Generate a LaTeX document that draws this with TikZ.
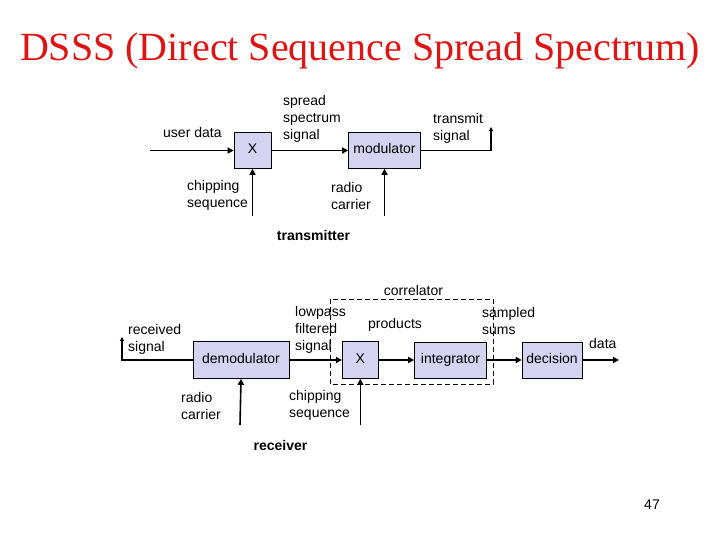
\documentclass[tikz,border=0pt]{standalone}
\usepackage{fontspec}
\setmainfont{Liberation Serif}
\setsansfont{Liberation Sans}
\usetikzlibrary{arrows.meta}
\usetikzlibrary{calc,positioning}

\definecolor{boxfill}{RGB}{212,212,242}
\definecolor{titlered}{RGB}{220,20,20}

\tikzset{
  block/.style={draw=black, fill=boxfill, line width=0.6pt, inner sep=0pt,
    text height=10pt, text depth=3pt,
    font=\sffamily\fontsize{14}{17}\selectfont},
  lbl/.style={inner sep=0pt, anchor=west, align=left,
    font=\sffamily\fontsize{14}{17}\selectfont},
  sig/.style={line width=1.6pt, -{Triangle[length=6pt,width=6pt]}},
  ant/.style={line width=1.6pt, -{Triangle[length=4pt,width=4pt]}},
}

\begin{document}
\begin{tikzpicture}[x=1pt,y=-1pt,>=Stealth]
  \useasboundingbox (0,0) rectangle (720,540);

  \node[text=titlered, font=\fontsize{40}{44}\selectfont] (title) at (360,51)
    {DSSS (Direct Sequence Spread Spectrum)};

  % transmitter
  \node[block, minimum width=37pt, minimum height=36pt] (mix) at (252.5,150.5) {X};
  \node[block, minimum width=72pt, minimum height=36pt] (mod) at (384.5,150.5) {modulator};

  \coordinate (in) at (150,150.5);
  \coordinate (tx) at (491,127);
  \coordinate (chip) at (252.5,216);
  \coordinate (car) at (384.5,216);

  \draw[sig] (in) -- (mix.west);
  \draw[sig] (mix.east) -- (mod.west);
  \draw[ant] (mod.east) -| (tx);
  \draw[sig] (chip) -- (mix.south);
  \draw[sig] (car) -- (mod.south);

  \node[lbl] (userdata) at (163,132) {user data};
  \node[lbl] (spread) at (283,119) {spread\\spectrum\\signal};
  \node[lbl] (txsig) at (433,128.5) {transmit\\signal};
  \node[lbl] (chiptx) at (187,195.5) {chipping\\sequence};
  \node[lbl] (cartx) at (331,195.5) {radio\\carrier};
  \node[lbl, anchor=center, font=\sffamily\bfseries\fontsize{14}{17}\selectfont] (transmitter) at (313.5,235) {transmitter};

  % receiver
  \draw[dashed, line width=0.8pt, dash pattern=on 5pt off 3pt] (330,299) rectangle (493,384);

  \node[block, minimum width=96pt, minimum height=37pt] (demod) at (241,360) {demodulator};
  \node[block, minimum width=36pt, minimum height=37pt] (mix2) at (360.3,360) {X};
  \node[block, minimum width=72pt, minimum height=36pt] (integ) at (450.5,360) {integrator};
  \node[block, minimum width=60pt, minimum height=36pt] (dec) at (552,360) {decision};

  \coordinate (rx) at (122,337);
  \coordinate (car2) at (240,425);
  \coordinate (chip2) at (360.3,425);
  \coordinate (out) at (619,360);

  \draw[ant] (demod.west) -| (rx);
  \draw[sig] (demod.east) -- (mix2.west);
  \draw[sig] (mix2.east) -- (integ.west);
  \draw[sig] (integ.east) -- (dec.west);
  \draw[sig] (dec.east) -- (out);
  \draw[sig] (car2) -- (demod.south);
  \draw[sig] (chip2) -- (mix2.south);

  \node[lbl, anchor=center] (corr) at (413.5,290) {correlator};
  \node[lbl] (rxsig) at (128,339) {received\\signal};
  \node[lbl] (lowpass) at (295,330) {lowpass\\filtered\\signal};
  \node[lbl] (prod) at (368,325) {products};
  \node[lbl] (sampled) at (482,321) {sampled\\sums};
  \node[lbl] (data) at (589,343) {data};
  \node[lbl] (carrx) at (181,405.5) {radio\\carrier};
  \node[lbl] (chiprx) at (289,405.5) {chipping\\sequence};
  \node[lbl, anchor=center, font=\sffamily\bfseries\fontsize{14}{17}\selectfont] (receiver) at (280.5,445) {receiver};

  \node[lbl, anchor=center] (page) at (652,505) {47};
\end{tikzpicture}
\end{document}
